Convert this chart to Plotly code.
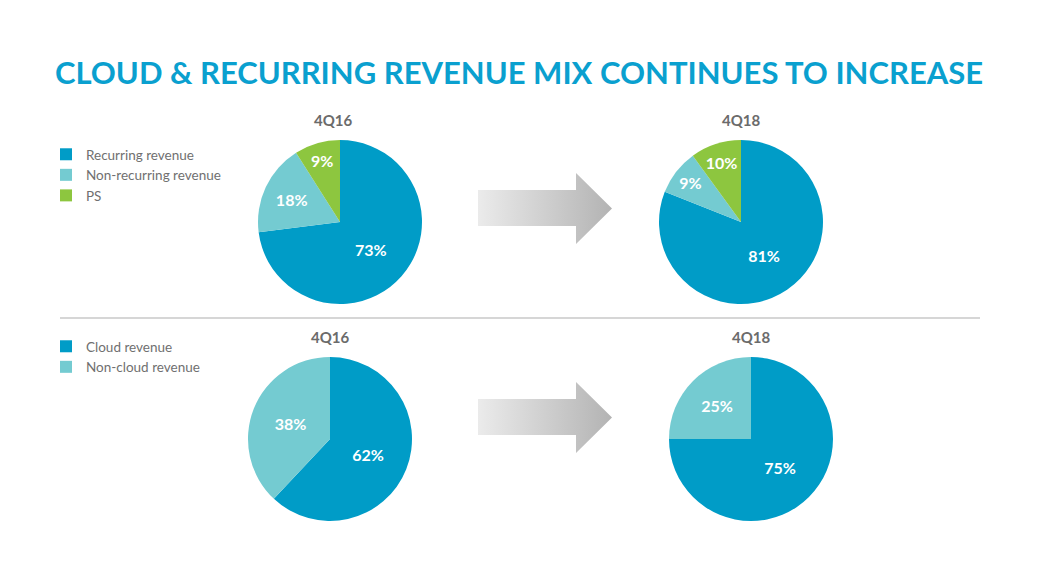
import plotly.graph_objects as go

W, H = 1038, 582
OFF = 8  # page body margin in the screenshot

# data
top_labels = ["Recurring revenue", "Non-recurring revenue", "PS"]
top_4q16 = [73, 18, 9]
top_4q18 = [81, 9, 10]
bottom_labels = ["Cloud revenue", "Non-cloud revenue"]
bottom_4q16 = [62, 38]
bottom_4q18 = [75, 25]
periods = ["4Q16", "4Q18"]

BLUE = "#009CC7"
TEAL = "#74CBD1"
GREEN = "#8DC63F"
GREY_TXT = "#6B6B6B"
FONT = "Lato"


def dom(cx, cy, r):
    # pixel centre/radius (screen coords) -> paper domain
    cx, cy = cx - OFF, cy - OFF
    return dict(x=[(cx - r) / W, (cx + r) / W], y=[1 - (cy + r) / H, 1 - (cy - r) / H])


def pie(labels, values, colors, domain, legend, showlegend):
    return go.Pie(
        labels=labels, values=values, sort=False, direction="clockwise", rotation=0,
        marker=dict(colors=colors, line=dict(width=0)),
        texttemplate="%{value}%", textposition="inside", insidetextorientation="horizontal",
        textfont=dict(color="white", size=16, family=FONT, weight="bold"),
        domain=domain, legend=legend, showlegend=showlegend, hoverinfo="label+percent",
    )


fig = go.Figure()
fig.add_trace(pie(top_labels, top_4q16, [BLUE, TEAL, GREEN], dom(340, 222, 82), "legend", True))
fig.add_trace(pie(top_labels, top_4q18, [BLUE, TEAL, GREEN], dom(741, 222, 82), "legend", False))
fig.add_trace(pie(bottom_labels, bottom_4q16, [BLUE, TEAL], dom(330, 439, 82), "legend2", True))
fig.add_trace(pie(bottom_labels, bottom_4q18, [BLUE, TEAL], dom(751, 439, 82), "legend2", False))

# gradient arrows (decoration) on a hidden pixel-space axis
def arrow(y0):
    xs = [478, 576, 576, 612, 576, 576, 478, 478]
    ys = [y0 + 17, y0 + 17, y0, y0 + 35.5, y0 + 71, y0 + 53, y0 + 53, y0 + 17]
    return go.Scatter(
        x=xs, y=ys, mode="lines", line=dict(width=0), fill="toself",
        fillgradient=dict(type="horizontal", colorscale=[[0, "#EBEBEB"], [1, "#B3B3B3"]]),
        showlegend=False, hoverinfo="skip",
    )

fig.add_trace(arrow(173))
fig.add_trace(arrow(382))

annotations = [
    dict(text="CLOUD & RECURRING REVENUE MIX CONTINUES TO INCREASE", x=519, y=72,
         font=dict(size=31, color="#0AA0CF", family=FONT, weight="bold")),
]
for (x, y), p in zip([(333, 120), (741, 120), (330, 337), (751, 337)], periods * 2):
    annotations.append(dict(text=p, x=x, y=y, font=dict(size=15, color=GREY_TXT, family=FONT, weight="bold")))
for a in annotations:
    a.update(xref="x", yref="y", showarrow=False, xanchor="center", yanchor="middle")

fig.update_layout(
    width=W, height=H, margin=dict(l=0, r=0, t=0, b=0),
    paper_bgcolor="white", plot_bgcolor="rgba(0,0,0,0)",
    xaxis=dict(range=[OFF, W + OFF], visible=False, fixedrange=True),
    yaxis=dict(range=[H + OFF, OFF], visible=False, fixedrange=True),
    annotations=annotations,
    shapes=[dict(type="line", xref="x", yref="y", x0=60, x1=980, y0=318, y1=318,
                 line=dict(color="#C8C8C8", width=1.5))],
    legend=dict(x=38 / W, y=1 - 131 / H, xanchor="left", yanchor="top",
                font=dict(size=13.5, color="#707070", family=FONT), bgcolor="rgba(0,0,0,0)"),
    legend2=dict(x=38 / W, y=1 - 323 / H, xanchor="left", yanchor="top",
                 font=dict(size=13.5, color="#707070", family=FONT), bgcolor="rgba(0,0,0,0)"),
    showlegend=True,
)

fig.write_html("out.html")
